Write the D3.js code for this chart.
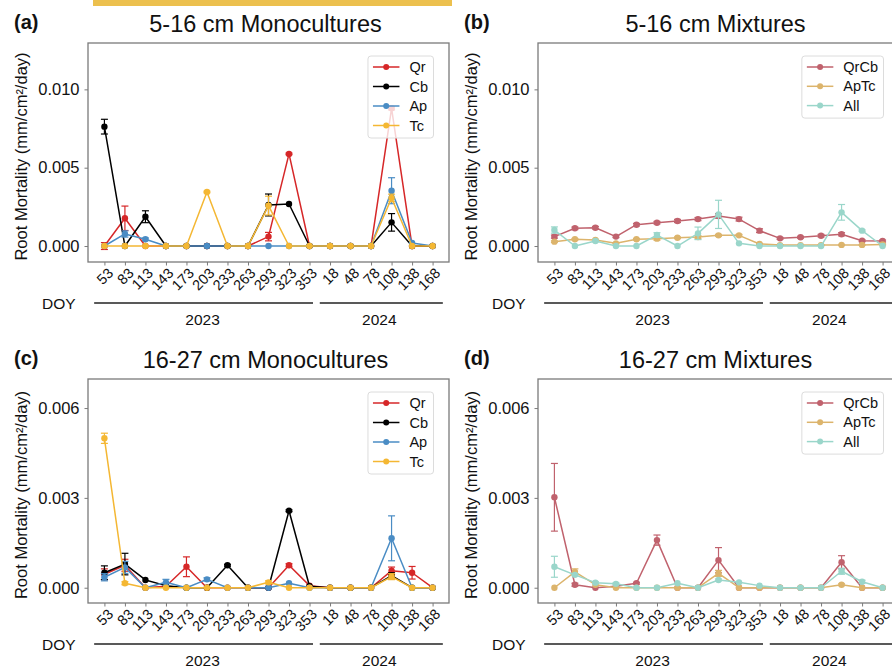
<!DOCTYPE html>
<html><head><meta charset="utf-8">
<script src="https://cdn.jsdelivr.net/npm/d3@7"></script>
<style>
body{margin:0;background:#fff}
svg{display:block}
text{font-family:"Liberation Sans",Arial,Helvetica,sans-serif;fill:#111}
</style>
</head><body>
<svg id="chart" width="892" height="669"></svg>
<script>
// ---------------- DATA ----------------
const doyLabels = ["53","83","113","143","173","203","233","263","293","323","353","18","48","78","108","138","168"];
const yearLabels = ["2023","2024"];
const yearFirstIdx = [0, 11];
const yearLastIdx = [10, 16];

const monoNames = ["Qr","Cb","Ap","Tc"];
const mixNames = ["QrCb","ApTc","All"];
const monoColors = ["#d62728","#000000","#4a8cc4","#f4b733"];
const mixColors = ["#c0626d","#dcb46c","#9ad6ca"];

// 5-16 cm monocultures
const qr5    = [0,0.00177,0,0,0,0,0,0,0.0006,0.00588,0,0,0,0,0.00879,0,0];
const qr5Err = [0.00022,0.00078,0,0,0,0,0,0,0.00027,0.00005,0,0,0,0,0.0001,0,0];
const cb5    = [0.00762,0,0.00187,0,0,0,0,0,0.00262,0.00268,0,0,0,0,0.00151,0,0];
const cb5Err = [0.00047,0,0.00038,0,0,0,0,0,0.0007,0,0,0,0,0,0.00056,0,0];
const ap5    = [0,0.00077,0.00043,0,0,0,0,0,0,0,0,0,0,0,0.00353,0.0002,0];
const ap5Err = [0,0.0002,0.00008,0,0,0,0,0,0,0,0,0,0,0,0.00083,0,0];
const tc5    = [0,0,0,0,0,0.00345,0,0,0.00258,0,0,0,0,0,0.00307,0,0];
const tc5Err = [0,0,0,0,0,0.00005,0,0,0.0006,0,0,0,0,0,0.00024,0,0];

// 5-16 cm mixtures
const qrcb5    = [0.0006,0.00113,0.00117,0.0006,0.00136,0.00149,0.0016,0.00172,0.00192,0.00172,0.00098,0.00049,0.00056,0.00066,0.00075,0.00034,0.00032];
const qrcb5Err = [0.0001,0.00008,0.00008,0.00006,0.00008,0.00008,0.0001,0.0001,0.00015,0.00012,0.00012,0.00006,0.00006,0.00008,0.0001,0.00006,0.00006];
const aptc5    = [0.00028,0.00043,0.00038,0.00017,0.00043,0.00047,0.00053,0.00057,0.00068,0.00068,0.00013,0.00006,0.00006,0.00006,0.00007,0.00007,0.0001];
const aptc5Err = [0.00005,0.00005,0.00005,0.00004,0.00005,0.0001,0.00005,0.0001,0.00006,0.00006,0.00004,0.00003,0.00003,0.00003,0.00003,0.00003,0.00003];
const all5     = [0.00102,0,0.00032,0,0,0.0007,0,0.00081,0.00202,0.00017,0,0,0,0,0.00215,0.00098,0];
const all5Err  = [0.0002,0,0.00005,0,0,0.00015,0,0.0004,0.0009,0,0,0,0,0,0.0005,0.00005,0];

// 16-27 cm monocultures
const qr27    = [0.00045,0.00075,0,0.00005,0.0007,0,0,0,0,0.00075,0.00007,0,0,0,0.00057,0.0005,0];
const qr27Err = [0.00018,0.0002,0,0,0.00033,0,0,0,0,0.00005,0,0,0,0,0.00012,0.00021,0];
const cb27    = [0.0005,0.00079,0.00026,0.00007,0,0,0.00075,0,0,0.00257,0.00005,0,0,0,0.0004,0,0];
const cb27Err = [0.00023,0.00036,0,0,0,0,0.00003,0,0,0.00003,0,0,0,0,0.0001,0,0];
const ap27    = [0.00035,0.00068,0,0.00018,0,0.00028,0,0,0,0.00015,0,0,0,0,0.00165,0,0];
const ap27Err = [0.00012,0.0002,0,0.0001,0,0.00005,0,0,0,0,0,0,0,0,0.00075,0,0];
const tc27    = [0.00499,0.00015,0,0,0,0,0,0,0.00018,0,0,0,0,0,0.00037,0,0];
const tc27Err = [0.00017,0.00005,0,0,0,0,0,0,0.00005,0,0,0,0,0,0.0001,0,0];

// 16-27 cm mixtures
const qrcb27    = [0.00302,0.0001,0,0.00005,0.00015,0.00159,0,0,0.00092,0,0,0,0,0,0.00085,0,0];
const qrcb27Err = [0.00113,0.00005,0,0,0.00003,0.00017,0,0,0.00042,0,0,0,0,0,0.00022,0,0];
const aptc27    = [0,0.00053,0.0001,0,0,0,0,0,0.00048,0,0,0,0,0,0.0001,0,0];
const aptc27Err = [0,0.0001,0,0,0,0,0,0,0.0001,0,0,0,0,0,0.00003,0,0];
const all27     = [0.0007,0.00043,0.00017,0.00013,0,0,0.00015,0,0.00026,0.00018,0.00007,0,0,0,0.00055,0.0002,0];
const all27Err  = [0.00035,0.00003,0.00003,0.00003,0,0,0,0,0.00003,0,0,0,0,0,0.0001,0.00005,0];

const ticksShallow = [0, 0.005, 0.010];
const ticksDeep = [0, 0.003, 0.006];

// ---------------- LAYOUT ----------------
const FONT = '"Liberation Sans",Arial,Helvetica,sans-serif';
const panels = [
  {tag:"(a)", title:"5-16 cm Monocultures", left:88, top:43, bottom:262, yDom:[-0.00102,0.01296], ticks:ticksShallow,
   names:monoNames, colors:monoColors, vals:[qr5,cb5,ap5,tc5], errs:[qr5Err,cb5Err,ap5Err,tc5Err]},
  {tag:"(b)", title:"5-16 cm Mixtures", left:538, top:43, bottom:262, yDom:[-0.00102,0.01296], ticks:ticksShallow,
   names:mixNames, colors:mixColors, vals:[qrcb5,aptc5,all5], errs:[qrcb5Err,aptc5Err,all5Err]},
  {tag:"(c)", title:"16-27 cm Monocultures", left:88, top:379, bottom:603, yDom:[-0.00051,0.00697], ticks:ticksDeep,
   names:monoNames, colors:monoColors, vals:[qr27,cb27,ap27,tc27], errs:[qr27Err,cb27Err,ap27Err,tc27Err]},
  {tag:"(d)", title:"16-27 cm Mixtures", left:538, top:379, bottom:603, yDom:[-0.00051,0.00697], ticks:ticksDeep,
   names:mixNames, colors:mixColors, vals:[qrcb27,aptc27,all27], errs:[qrcb27Err,aptc27Err,all27Err]}
];
const PW = 361;

const svg = d3.select("#chart");
svg.append("rect").attr("x",0).attr("y",0).attr("width",892).attr("height",669).attr("fill","#fff");
// decorative gold strip at top
svg.append("rect").attr("x",93).attr("y",0).attr("width",359).attr("height",6).attr("fill","#ecc04e");

panels.forEach(p => {
  const g = svg.append("g");
  const right = p.left + PW;
  const x = d3.scalePoint().domain(doyLabels).range([p.left, right]).padding(0.8);
  const y = d3.scaleLinear().domain(p.yDom).range([p.bottom, p.top]);
  const step = x.step();

  // frame
  g.append("rect").attr("x",p.left).attr("y",p.top).attr("width",PW).attr("height",p.bottom-p.top)
    .attr("fill","none").attr("stroke","#7a7a7a").attr("stroke-width",1.3);

  // y axis
  const ya = g.append("g").attr("transform",`translate(${p.left},0)`)
    .call(d3.axisLeft(y).tickValues(p.ticks).tickFormat(d3.format(".3f")).tickSize(3.5).tickPadding(5));
  ya.select(".domain").remove();
  ya.selectAll(".tick line").attr("stroke","#7a7a7a");
  ya.selectAll("text").style("font-family",FONT).style("font-size","16.5px").attr("fill","#111");

  // x axis
  const xa = g.append("g").attr("transform",`translate(0,${p.bottom})`)
    .call(d3.axisBottom(x).tickSize(3.5));
  xa.select(".domain").remove();
  xa.selectAll(".tick line").attr("stroke","#7a7a7a");
  const fs = 14.5;
  xa.selectAll("text").style("font-family",FONT).style("font-size",fs+"px").attr("fill","#111")
    .attr("y",0).attr("dy",null).attr("text-anchor","middle").attr("dominant-baseline","central")
    .each(function(){
      const w = this.getComputedTextLength();
      const hb = (w + 0.72*fs)*Math.SQRT1_2;
      const shift = -Math.max(0, w - 16) * 0.5;
      d3.select(this).attr("transform",`translate(${shift},${4.8 + hb/2}) rotate(-45)`);
    });

  // DOY + year brackets
  const lineY = p.bottom + 41;
  g.append("text").attr("x",p.left-46).attr("y",lineY+5.5).text("DOY")
    .style("font-family",FONT).style("font-size","15.5px");
  yearLabels.forEach((yl,k) => {
    const x0 = x(doyLabels[yearFirstIdx[k]]) - step*0.5;
    const x1 = k===0 ? x(doyLabels[yearLastIdx[k]]) + step*0.17 : x(doyLabels[yearLastIdx[k]]) + step*0.5;
    g.append("line").attr("x1",x0).attr("x2",x1).attr("y1",lineY).attr("y2",lineY)
      .attr("stroke","#222").attr("stroke-width",1.5);
    g.append("text").attr("x",(x0+x1)/2 - (k===0?1:2)).attr("y",lineY+22).attr("text-anchor","middle").text(yl)
      .style("font-family",FONT).style("font-size","15.5px");
  });

  // titles
  g.append("text").attr("x",(p.left+right)/2 - 3).attr("y",p.top-11).attr("text-anchor","middle").text(p.title)
    .style("font-family",FONT).style("font-size","23.5px");
  g.append("text").attr("x",p.left-74).attr("y",p.top-14).text(p.tag)
    .style("font-family",FONT).style("font-size","20px").style("font-weight","bold");
  // y label
  g.append("text").attr("transform",`translate(${p.left-67},${(p.top+p.bottom)/2+4}) rotate(-90)`)
    .attr("text-anchor","middle").attr("dominant-baseline","central").text("Root Mortality (mm/cm²/day)")
    .style("font-family",FONT).style("font-size","16.5px");

  // series
  const line = d3.line().x((d,i)=>x(doyLabels[i])).y(d=>y(d));
  p.vals.forEach((vals,s) => {
    const col = p.colors[s];
    const errs = p.errs[s];
    const sg = g.append("g");
    sg.append("path").attr("d",line(vals)).attr("fill","none").attr("stroke",col).attr("stroke-width",1.5)
      .attr("stroke-linejoin","round");
    vals.forEach((v,i) => {
      const e = errs[i];
      if (e > 0) {
        const cx = x(doyLabels[i]);
        sg.append("line").attr("x1",cx).attr("x2",cx).attr("y1",y(v-e)).attr("y2",y(v+e)).attr("stroke",col).attr("stroke-width",1.2);
        [v-e, v+e].forEach(b => sg.append("line").attr("x1",cx-3.5).attr("x2",cx+3.5).attr("y1",y(b)).attr("y2",y(b))
          .attr("stroke",col).attr("stroke-width",1.2));
      }
    });
    sg.selectAll("circle").data(vals).enter().append("circle")
      .attr("cx",(d,i)=>x(doyLabels[i])).attr("cy",d=>y(d)).attr("r",3.2).attr("fill",col);
  });

  // legend
  const lg = g.append("g");
  const tmp = lg.append("g");
  const widths = p.names.map(n => {
    const t = tmp.append("text").text(n).style("font-family",FONT).style("font-size","14.5px");
    return t.node().getComputedTextLength();
  });
  tmp.remove();
  const maxW = d3.max(widths);
  const boxR = right - 15.5;
  const boxW = 5 + 26.5 + 10 + maxW + 5.5;
  const boxL = boxR - boxW;
  const rowH = p.names.length === 4 ? 19.5 : 19.3;
  const row0 = p.top + 24;
  const boxT = p.top + 13;
  const boxB = row0 + rowH*(p.names.length-1) + 12.5;
  lg.append("rect").attr("x",boxL).attr("y",boxT).attr("width",boxW).attr("height",boxB-boxT).attr("rx",3)
    .attr("fill","#fff").attr("fill-opacity",0.8).attr("stroke","#dcdcdc").attr("stroke-width",1);
  p.names.forEach((n,k) => {
    const ry = row0 + rowH*k;
    const lx0 = boxL + 5, lx1 = boxL + 31.5;
    lg.append("line").attr("x1",lx0).attr("x2",lx1).attr("y1",ry).attr("y2",ry).attr("stroke",p.colors[k]).attr("stroke-width",1.5);
    lg.append("circle").attr("cx",(lx0+lx1)/2).attr("cy",ry).attr("r",3).attr("fill",p.colors[k]);
    lg.append("text").attr("x",lx1+10).attr("y",ry).attr("dominant-baseline","central").text(n)
      .style("font-family",FONT).style("font-size","14.5px");
  });
});
</script>
</body></html>
